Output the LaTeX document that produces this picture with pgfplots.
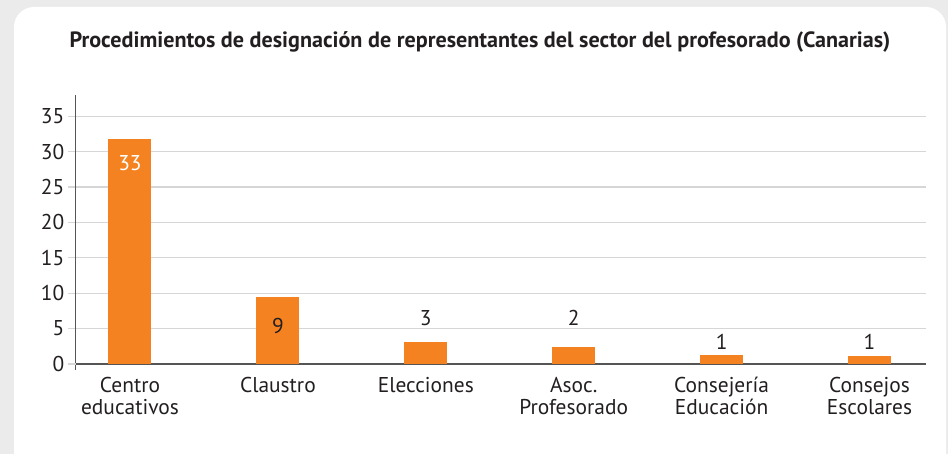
\documentclass[border=0pt]{standalone}
\usepackage{fontspec}
\setmainfont{PT Sans}
\usepackage{pgfplots}
\pgfplotsset{compat=1.18}
\definecolor{bgray}{HTML}{EBEBEB}
\definecolor{orng}{HTML}{F58220}
\definecolor{gridc}{HTML}{D6D6D6}
\definecolor{axc}{HTML}{555555}
\definecolor{txt}{HTML}{231F20}
\begin{document}
\begin{tikzpicture}[x=1bp,y=1bp]
\useasboundingbox (0,0) rectangle (948,454);
\begin{scope}
\clip (0,0) rectangle (948,454);
\fill[bgray] (0,0) rectangle (948,454);
\fill[white, rounded corners=20bp] (14,-20) rectangle (946,447);
\end{scope}
\node[font=\bfseries\fontsize{22.2}{24}\selectfont, text=txt] at (480,412) {Procedimientos de designación de representantes del sector del profesorado (Canarias)};
\begin{axis}[
  at={(75.7bp,84bp)}, anchor=south west, scale only axis,
  width=850bp, height=275bp,
  xmin=-0.367, xmax=5.38, ymin=-0.85, ymax=38,
  axis lines*=left,
  x axis line style={draw=none},
  y axis line style={axc, line width=1.2bp},
  ytick={0,5,...,35},
  ymajorgrids, grid style={gridc, line width=1.1bp},
  y tick style={gridc, line width=1.1bp},
  tick align=outside, major tick length=8bp,
  extra y ticks={0}, extra y tick labels={},
  extra y tick style={grid style={axc, line width=1.2bp}, tick style={axc, line width=1.2bp}},
  xtick={0,1,2,3,4,5},
  xtick style={draw=none},
  xticklabels={{Centro\\educativos},{Claustro},{Elecciones},{Asoc.\\Profesorado},{Consejería\\Educación},{Consejos\\Escolares}},
  xticklabel style={align=center, font=\fontsize{21.5}{22}\selectfont, text=txt, yshift=4bp},
  yticklabel style={font=\fontsize{21.5}{22}\selectfont, text=txt},
  /pgf/number format/assume math mode=true,
  bars/.style={ybar, bar width=43bp, bar shift=0pt, fill=orng, draw=none,
    nodes near coords, point meta=explicit symbolic,
    nodes near coords style={font=\fontsize{21.5}{22}\selectfont, text=txt}},
]
\addplot[bars, nodes near coords style={anchor=north, yshift=-13bp, text=white}] coordinates {(0,31.75) [33]};
\addplot[bars, nodes near coords style={anchor=north, yshift=-18bp}] coordinates {(1,9.45) [9]};
\addplot[bars, nodes near coords style={anchor=south, yshift=12.5bp}] coordinates {(2,3.1) [3]};
\addplot[bars, nodes near coords style={anchor=south, yshift=17.5bp}] coordinates {(3,2.4) [2]};
\addplot[bars, nodes near coords style={anchor=south, yshift=1.7bp}] coordinates {(4,1.27) [1]};
\addplot[bars, nodes near coords style={anchor=south, yshift=2.7bp}] coordinates {(5,1.13) [1]};
\end{axis}
\end{tikzpicture}
\end{document}
